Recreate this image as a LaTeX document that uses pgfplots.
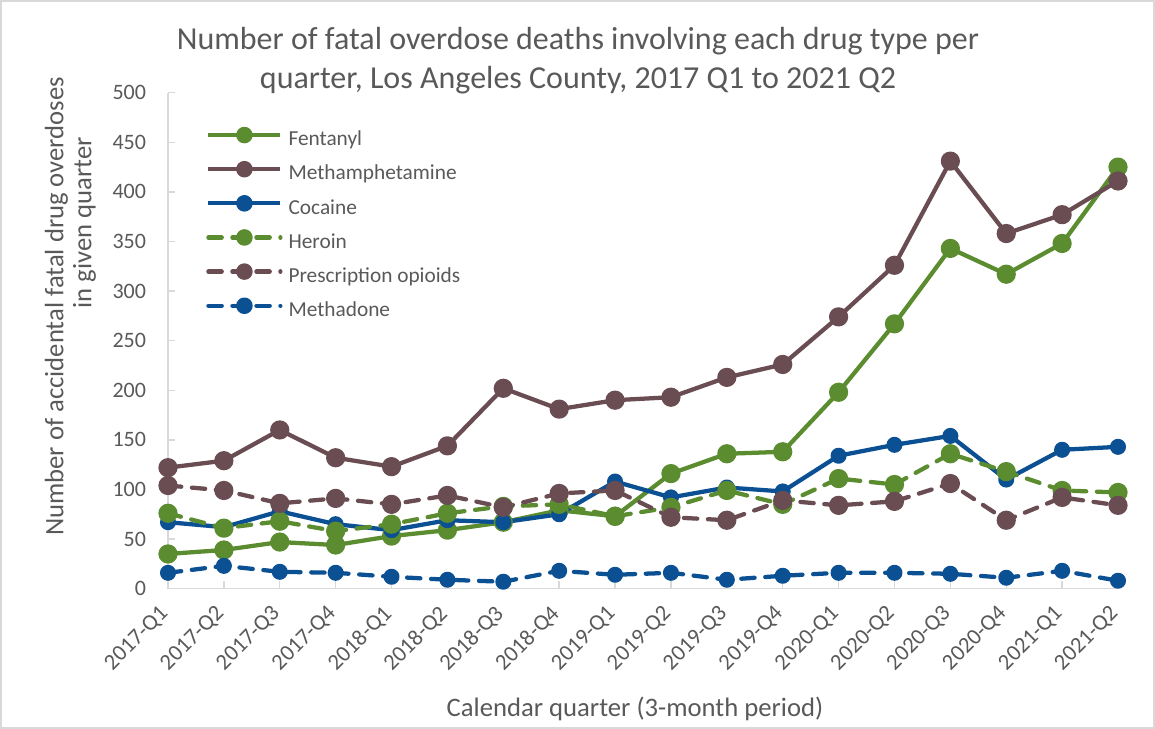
\documentclass[border=0pt]{standalone}
\usepackage{fontspec}
\setmainfont{Carlito}
\usepackage{pgfplots}
\pgfplotsset{compat=1.18}

\definecolor{fent}{HTML}{5B8C30}
\definecolor{meth}{HTML}{6A4C53}
\definecolor{coca}{HTML}{0C5094}
\definecolor{txtgrey}{HTML}{595959}
\definecolor{axgrey}{HTML}{D9D9D9}

\newcommand{\tickfont}{\fontsize{16.5}{19}\selectfont}
\newcommand{\xtickfont}{\fontsize{17}{20}\selectfont}

\begin{document}
\begin{tikzpicture}
\useasboundingbox (-126pt,-105.2pt) rectangle (740.25pt,441.5pt);
\begin{axis}[
  at={(0,0)}, anchor=south west,
  scale only axis, width=712.5pt, height=372pt,
  xmin=0, xmax=17, ymin=0, ymax=500,
  axis x line=bottom, axis y line=left,
  axis line style={-, draw=axgrey, line width=1.1pt},
  xtick={0,...,17},
  xticklabels={2017-Q1,2017-Q2,2017-Q3,2017-Q4,2018-Q1,2018-Q2,2018-Q3,2018-Q4,2019-Q1,2019-Q2,2019-Q3,2019-Q4,2020-Q1,2020-Q2,2020-Q3,2020-Q4,2021-Q1,2021-Q2},
  ytick={0,50,...,500},
  tick align=inside, major tick length=5.5pt,
  tick style={draw=axgrey, line width=1.1pt},
  xticklabel style={font=\xtickfont, text=txtgrey, yshift=-14pt, rotate=45, anchor=east},
  yticklabel style={font=\tickfont, text=txtgrey, xshift=-13pt},
  /pgf/number format/assume math mode=true,
  clip=false,
  legend cell align=left,
  legend style={at={(28.5pt,345pt)}, anchor=north west, draw=none, fill=none,
    inner sep=0pt, row sep=10pt, column sep=4.5pt,
    font=\fontsize{16}{19}\selectfont, text=txtgrey,
    nodes={inner sep=0pt, text height=11pt, text depth=3pt}},
  legend image code/.code={%
    \draw[mark repeat=2, mark phase=2, #1, mark size=4.6pt] plot coordinates {(0pt,4pt) (27pt,4pt) (54pt,4pt)};},
  every axis plot/.append style={line join=round},
]
% Fentanyl
\addplot[fent, line width=3.2pt, mark=*, mark size=5.6pt, mark options={solid}] coordinates {
 (0,35) (1,39) (2,47) (3,44) (4,53) (5,59) (6,67) (7,79) (8,73) (9,116)
 (10,136) (11,138) (12,198) (13,267) (14,343) (15,317) (16,348) (17,425)};
\addlegendentry{Fentanyl}
% Methamphetamine
\addplot[meth, line width=3.2pt, mark=*, mark size=5.6pt, mark options={solid}] coordinates {
 (0,122) (1,129) (2,160) (3,132) (4,123) (5,144) (6,202) (7,181) (8,190) (9,193)
 (10,213) (11,226) (12,274) (13,326) (14,431) (15,358) (16,377) (17,411)};
\addlegendentry{Methamphetamine}
% Cocaine
\addplot[coca, line width=3.2pt, mark=*, mark size=4.4pt, mark options={solid}] coordinates {
 (0,67) (1,62) (2,78) (3,65) (4,59) (5,69) (6,67) (7,75) (8,108) (9,92)
 (10,102) (11,98) (12,134) (13,145) (14,154) (15,110) (16,140) (17,143)};
\addlegendentry{Cocaine}
% Heroin
\addplot[fent, line width=3.2pt, dash pattern=on 10pt off 8pt, line cap=round,
  mark=*, mark size=5.6pt, mark options={solid}] coordinates {
 (0,76) (1,61) (2,68) (3,58) (4,65) (5,76) (6,83) (7,85) (8,73) (9,82)
 (10,99) (11,85) (12,111) (13,105) (14,136) (15,118) (16,99) (17,97)};
\addlegendentry{Heroin}
% Prescription opioids
\addplot[meth, line width=3.2pt, dash pattern=on 10pt off 8pt, line cap=round,
  mark=*, mark size=5.6pt, mark options={solid}] coordinates {
 (0,104) (1,99) (2,86) (3,91) (4,85) (5,94) (6,82) (7,96) (8,99) (9,72)
 (10,69) (11,89) (12,84) (13,88) (14,106) (15,69) (16,92) (17,84)};
\addlegendentry{Prescription opioids}
% Methadone
\addplot[coca, line width=3.2pt, dash pattern=on 10pt off 8pt, line cap=round,
  mark=*, mark size=4.4pt, mark options={solid}] coordinates {
 (0,16) (1,23) (2,17) (3,16) (4,12) (5,9) (6,7) (7,18) (8,14) (9,16)
 (10,9) (11,13) (12,16) (13,16) (14,15) (15,11) (16,18) (17,8)};
\addlegendentry{Methadone}
\end{axis}
% chart title
\node[font=\fontsize{24}{28}\selectfont, text=txtgrey, anchor=base] at (307.5pt,404pt)
  {Number of fatal overdose deaths involving each drug type per};
\node[font=\fontsize{24}{28}\selectfont, text=txtgrey, anchor=base] at (307.5pt,374.8pt)
  {quarter, Los Angeles County, 2017 Q1 to 2021 Q2};
% axis titles
\node[font=\fontsize{20}{24}\selectfont, text=txtgrey, anchor=base] at (350.25pt,-96pt)
  {Calendar quarter (3-month period)};
\node[font=\fontsize{20}{24}\selectfont, text=txtgrey, anchor=base, rotate=90] at (-78.5pt,211.7pt)
  {Number of accidental fatal drug overdoses};
\node[font=\fontsize{20}{24}\selectfont, text=txtgrey, anchor=base, rotate=90] at (-57.4pt,274.3pt)
  {in given quarter};
% chart border
\draw[axgrey, line width=1.2pt] (-125.4pt,-104.6pt) rectangle (739.65pt,440.9pt);
\end{tikzpicture}
\end{document}
